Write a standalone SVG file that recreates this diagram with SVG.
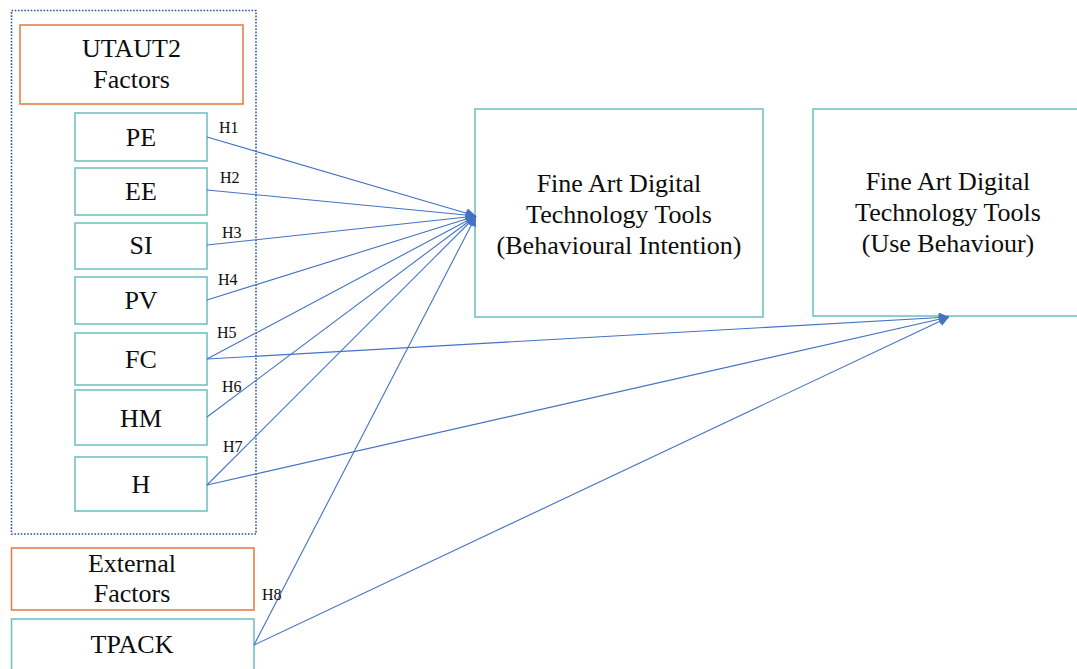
<svg xmlns="http://www.w3.org/2000/svg" width="1077" height="669" viewBox="0 0 1077 669">
<style>
.bg{fill:#ffffff}
.teal{fill:#ffffff;stroke:#72C2C2;stroke-width:1.6}
.orange{fill:#ffffff;stroke:#E0824A;stroke-width:1.6}
.group{fill:none;stroke:#2F5597;stroke-width:1.6;stroke-dasharray:1.6 1.6}
.t{font-family:"Liberation Serif","Times New Roman",serif;font-size:26px;fill:#0d0d0d;text-anchor:middle}
.h{font-family:"Liberation Serif","Times New Roman",serif;font-size:16px;fill:#0d0d0d}
.c{stroke:#4472C4;stroke-width:1.1;fill:none}
</style>
<defs>
<marker id="arr" viewBox="0 0 10 10" refX="10" refY="5" markerWidth="11" markerHeight="10" markerUnits="userSpaceOnUse" orient="auto">
<path d="M0,0 L10,5 L0,10 z" fill="#4472C4"/>
</marker>
</defs>
<rect class="bg" x="0" y="0" width="1077" height="669"/>
<g id="utaut2-group">
<rect class="group" x="11.5" y="10.5" width="244.5" height="523.5"/>
</g>
<g id="utaut2-label">
<rect class="orange" x="20" y="25" width="223" height="79"/>
<text class="t" x="131.5" y="57">UTAUT2</text>
<text class="t" x="131.5" y="88">Factors</text>
</g>
<g id="node-PE"><rect class="teal" x="75" y="113" width="132" height="48"/><text class="t" x="141" y="146">PE</text></g>
<g id="node-EE"><rect class="teal" x="75" y="168" width="132" height="47"/><text class="t" x="141" y="200">EE</text></g>
<g id="node-SI"><rect class="teal" x="75" y="223" width="132" height="46"/><text class="t" x="141" y="254">SI</text></g>
<g id="node-PV"><rect class="teal" x="75" y="277" width="132" height="47"/><text class="t" x="141" y="309">PV</text></g>
<g id="node-FC"><rect class="teal" x="75" y="333" width="132" height="52"/><text class="t" x="141" y="368">FC</text></g>
<g id="node-HM"><rect class="teal" x="75" y="390" width="132" height="55"/><text class="t" x="141" y="427">HM</text></g>
<g id="node-H"><rect class="teal" x="75" y="457" width="132" height="54"/><text class="t" x="141" y="493">H</text></g>
<g id="external-label">
<rect class="orange" x="11.5" y="548" width="242.5" height="62"/>
<text class="t" x="132" y="572">External</text>
<text class="t" x="132" y="602">Factors</text>
</g>
<g id="node-TPACK"><rect class="teal" x="11.5" y="619" width="242.5" height="60"/><text class="t" x="132" y="653">TPACK</text></g>
<g id="node-BI">
<rect class="teal" x="475" y="109" width="288" height="208"/>
<text class="t" x="619" y="192">Fine Art Digital</text>
<text class="t" x="619" y="223">Technology Tools</text>
<text class="t" x="619" y="254">(Behavioural Intention)</text>
</g>
<g id="node-UB">
<rect class="teal" x="813" y="109" width="270" height="207"/>
<text class="t" x="948" y="190">Fine Art Digital</text>
<text class="t" x="948" y="221">Technology Tools</text>
<text class="t" x="948" y="252">(Use Behaviour)</text>
</g>
<g id="connectors">
<line class="c" x1="207" y1="137" x2="476" y2="216" marker-end="url(#arr)"/>
<line class="c" x1="207" y1="190" x2="476" y2="216" marker-end="url(#arr)"/>
<line class="c" x1="207" y1="245" x2="476" y2="216" marker-end="url(#arr)"/>
<line class="c" x1="207" y1="300" x2="476" y2="216" marker-end="url(#arr)"/>
<line class="c" x1="207" y1="359" x2="476" y2="216" marker-end="url(#arr)"/>
<line class="c" x1="207" y1="417" x2="476" y2="216" marker-end="url(#arr)"/>
<line class="c" x1="207" y1="485" x2="476" y2="216" marker-end="url(#arr)"/>
<line class="c" x1="254" y1="645" x2="476" y2="216" marker-end="url(#arr)"/>
<line class="c" x1="207" y1="359" x2="949" y2="317" marker-end="url(#arr)"/>
<line class="c" x1="207" y1="485" x2="949" y2="317" marker-end="url(#arr)"/>
<line class="c" x1="254" y1="645" x2="949" y2="317" marker-end="url(#arr)"/>
</g>
<g id="labels">
<text class="h" x="219" y="133">H1</text>
<text class="h" x="220" y="183">H2</text>
<text class="h" x="222" y="238">H3</text>
<text class="h" x="218" y="285">H4</text>
<text class="h" x="217" y="338">H5</text>
<text class="h" x="222" y="392">H6</text>
<text class="h" x="223" y="452">H7</text>
<text class="h" x="262" y="600">H8</text>
</g>
</svg>
